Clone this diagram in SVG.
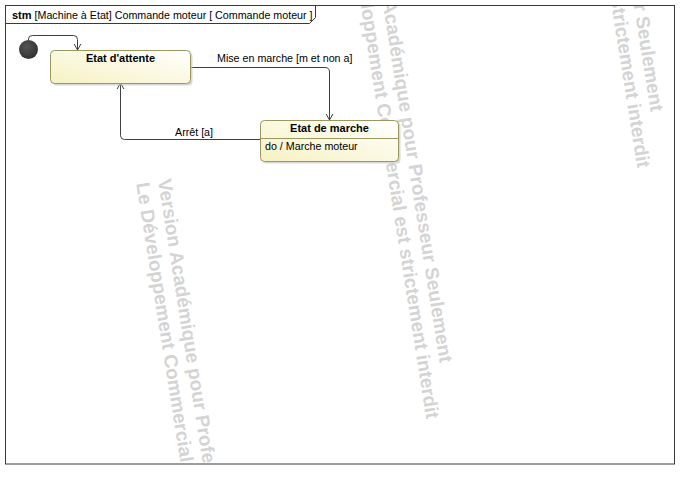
<svg xmlns="http://www.w3.org/2000/svg" width="689" height="479" viewBox="0 0 689 479">
<style>
.lbl{font-family:"Liberation Sans",Arial,sans-serif;font-size:10.7px;fill:#000}
.b{font-weight:bold;font-size:11px}
.wm{font-family:"Liberation Sans",Arial,sans-serif;font-size:19px;font-weight:bold;fill:#d4d4d4}
.state{stroke:#9b9760;stroke-width:1;fill:url(#sg)}
.shadow{fill:#c8c8c8;opacity:0.7}
.edge{fill:none;stroke:#404040;stroke-width:1}
</style>
<defs>
<linearGradient id="sg" x1="0" y1="1" x2="1" y2="0">
<stop offset="0" stop-color="#f6f2c2"/>
<stop offset="1" stop-color="#ffffff"/>
</linearGradient>
<radialGradient id="ig" cx="0.4" cy="0.35" r="0.7">
<stop offset="0" stop-color="#555"/>
<stop offset="1" stop-color="#2e2e2e"/>
</radialGradient>
<marker id="arr" markerWidth="12" markerHeight="12" viewBox="-6 -6 12 12" refX="0" refY="0" orient="auto" markerUnits="userSpaceOnUse">
<path d="M-8,-4.5 L0,0 L-8,4.5" fill="none" stroke="#404040" stroke-width="1"/>
</marker>
<clipPath id="fc"><rect x="5.5" y="5.5" width="669" height="458.5"/></clipPath>
</defs>
<rect width="689" height="479" fill="#fff"/>
<g id="watermark" clip-path="url(#fc)">
<g transform="translate(158,180) rotate(81)"><text class="wm" x="0" y="0">Version Académique pour Professeur Seulement</text><text class="wm" x="0" y="22">Le Développement Commercial est strictement interdit</text></g>
<g transform="translate(371,-71) rotate(81)"><text class="wm" x="0" y="0">Version Académique pour Professeur Seulement</text><text class="wm" x="0" y="22">Le Développement Commercial est strictement interdit</text></g>
<g transform="translate(582,-322) rotate(81)"><text class="wm" x="0" y="0">Version Académique pour Professeur Seulement</text><text class="wm" x="0" y="22">Le Développement Commercial est strictement interdit</text></g>
</g>
<g id="frame">
<rect x="5.5" y="5.5" width="669" height="458.5" fill="none" stroke="#3a3a3a" stroke-width="1"/>
<path d="M5.5,23.5 H309.5 L315.5,17.5 V5.5" fill="none" stroke="#3a3a3a" stroke-width="1"/>
<text class="lbl" x="12" y="18.5"><tspan class="b">stm</tspan> [Machine à Etat] Commande moteur [ Commande moteur ]</text>
</g>
<g id="connectors">
<path class="edge" d="M28.5,40 V39 Q28.5,35.5 32.5,35.5 H73.5 Q77.5,35.5 77.5,39.5 V50" marker-end="url(#arr)"/>
<path class="edge" d="M190,67.5 H325 Q329.5,67.5 329.5,72 V120" marker-end="url(#arr)"/>
<text class="lbl" x="217" y="62">Mise en marche [m et non a]</text>
<path class="edge" d="M260,139.5 H124.5 Q120.5,139.5 120.5,135.5 V83" marker-end="url(#arr)"/>
<text class="lbl" x="175" y="136">Arrêt [a]</text>
</g>
<g id="initial">
<circle cx="28.5" cy="49.5" r="9.5" fill="url(#ig)"/>
</g>
<g id="etat-attente">
<rect class="shadow" x="52.5" y="52.5" width="140" height="33" rx="4"/>
<rect class="state" x="50.5" y="50.5" width="140" height="33" rx="4"/>
<text class="lbl b" x="120.5" y="62" text-anchor="middle">Etat d'attente</text>
</g>
<g id="etat-marche">
<rect class="shadow" x="262.5" y="122.5" width="138" height="41" rx="4"/>
<rect class="state" x="260.5" y="120.5" width="138" height="41" rx="4"/>
<line x1="260.5" y1="138.5" x2="398.5" y2="138.5" stroke="#9b9760" stroke-width="1"/>
<text class="lbl b" x="329.5" y="132" text-anchor="middle">Etat de marche</text>
<text class="lbl" x="265" y="150">do / Marche moteur</text>
</g>
</svg>
